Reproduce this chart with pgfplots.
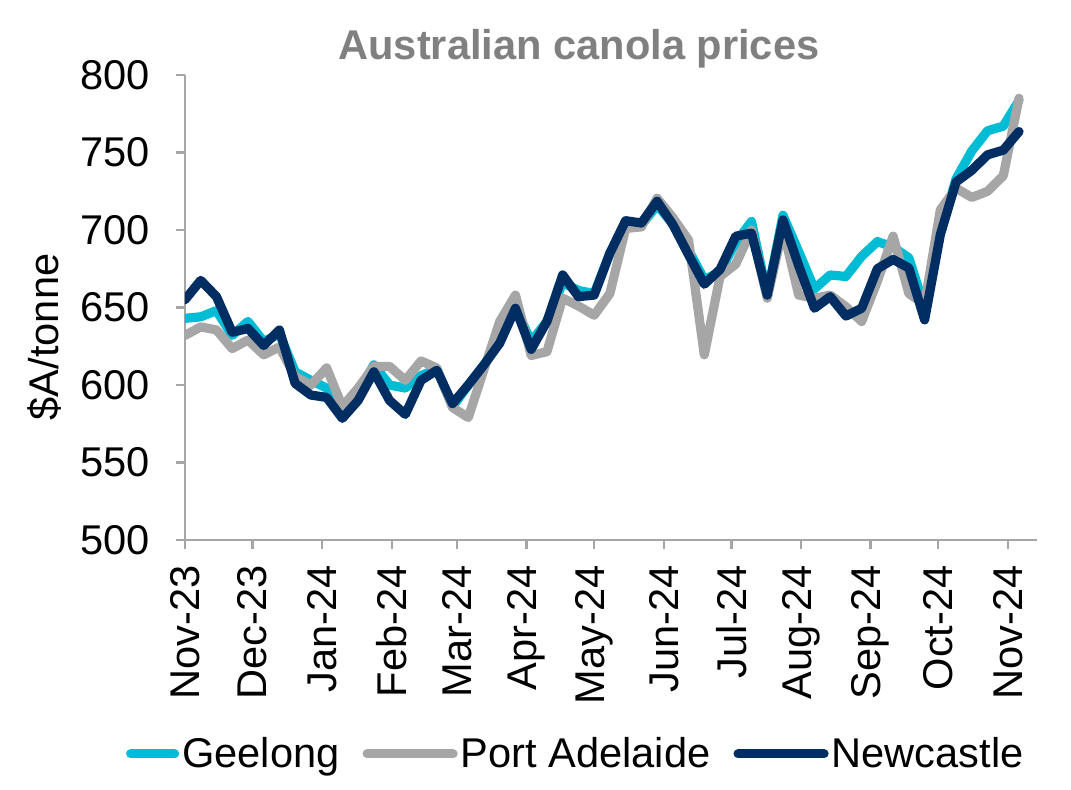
\documentclass[border=0pt]{standalone}
\usepackage{fontspec}
\setmainfont{Liberation Sans}
\usepackage{pgfplots}
\usepackage{pgfplotstable}
\pgfplotsset{compat=1.18}
\definecolor{geel}{RGB}{0,188,212}
\definecolor{port}{RGB}{166,166,166}
\definecolor{newc}{RGB}{0,45,98}
\definecolor{axgray}{RGB}{166,166,166}
\definecolor{titlegray}{RGB}{128,128,128}
\pgfplotsset{
  legshort/.style={legend image code/.code={\draw[##1] (0pt,0pt) -- (22pt,0pt);}},
  leglong/.style={legend image code/.code={\draw[##1] (0pt,0pt) -- (43pt,0pt);}},
}
\pgfplotstableread{
day G P N
0 643 632 655
7 644 637.5 667.5
14 648 635.5 657
21 632 623.5 634
28 641 629 636.5
35 628 619.5 625.5
42 633 624.5 635.5
49 608.5 605.5 601
56 603 600 593.5
63 598 611 592
70 587 586 578.5
77 595 598 590
84 613 612 608.5
91 600 612 590
98 598 603 581
105 606 615.5 603
112 610.5 611 609.5
119 586 585.5 588
126 600 579 600
133 613 610 613
140 628 641 627
147 650 658 649.5
154 628 619 623
161 641 621.5 641
168 666 656 671
175 661 651 657
182 659 645 658
189 685 659 685
196 705 701 706
203 703 702 704.5
210 716 720.5 718.5
217 704 708 703.5
224 687 693.5 684
231 668 619.5 665
238 673 670 674.5
245 692 678 696
252 705.5 700 698
259 658 656 658
266 709.5 701 706.5
273 686 658 677
280 662 656 649.5
287 671 658 657
294 670 650.5 644.5
301 683 641 649.5
308 692.5 667 675
315 689 696 681
322 682 659 675.5
329 650 652 642
336 698 713 697
343 733 727 731
350 751 721 738.5
357 764 725 748.5
364 767 735 751.5
371 783.5 785 763.5
}\prices
\newcommand{\f}{\fontsize{20.8}{25}\selectfont}
\begin{document}
\begin{tikzpicture}
\useasboundingbox (-92.5pt,-125pt) rectangle (443pt,270pt);
\begin{axis}[
  at={(0,0)}, anchor=south west,
  scale only axis, width=426pt, height=232.5pt,
  xmin=0, xmax=379, ymin=500, ymax=800,
  axis x line*=bottom, axis y line*=left,
  axis line style={draw=axgray, line width=1.25pt},
  tick style={draw=axgray, line width=1.25pt},
  major tick length=4.5pt, tick align=outside,
  ytick={500,550,...,800},
  xtick={0,30,61,92,121,152,182,213,243,274,305,335,366},
  xticklabels={Nov-23,Dec-23,Jan-24,Feb-24,Mar-24,Apr-24,May-24,Jun-24,Jul-24,Aug-24,Sep-24,Oct-24,Nov-24},
  tick label style={font=\f},
  /pgf/number format/assume math mode=true,
  yticklabel style={inner sep=0pt},
  yticklabel shift=13pt,
  xticklabel style={rotate=90, anchor=east, inner sep=0pt},
  xticklabel shift=8pt,
  title={Australian canola prices},
  title style={font=\bfseries\f, text=titlegray, at={(axis description cs:0.4624,1)}, anchor=base, yshift=1.5pt, inner sep=0pt},
  ylabel={\$A/tonne},
  ylabel style={font=\f, at={(axis description cs:-0.149,0.4366)}, anchor=base, inner sep=0pt},
  legend style={at={(axis description cs:0.4593,-0.46)}, anchor=center, draw=none, fill=none,
    font=\f, legend columns=3, nodes={inner sep=1.5pt},
    /tikz/every even column/.append style={column sep=10pt}},
  legend cell align=left,
  every axis plot/.append style={line join=round, line cap=round},
]
\addplot[geel, line width=4.6pt, legshort] table[x=day,y=G] {\prices};
\addlegendentry{Geelong}
\addplot[port, line width=4.6pt, leglong] table[x=day,y=P] {\prices};
\addlegendentry{Port Adelaide}
\addplot[newc, line width=4.6pt, leglong] table[x=day,y=N] {\prices};
\addlegendentry{Newcastle}
\end{axis}
\end{tikzpicture}
\end{document}
